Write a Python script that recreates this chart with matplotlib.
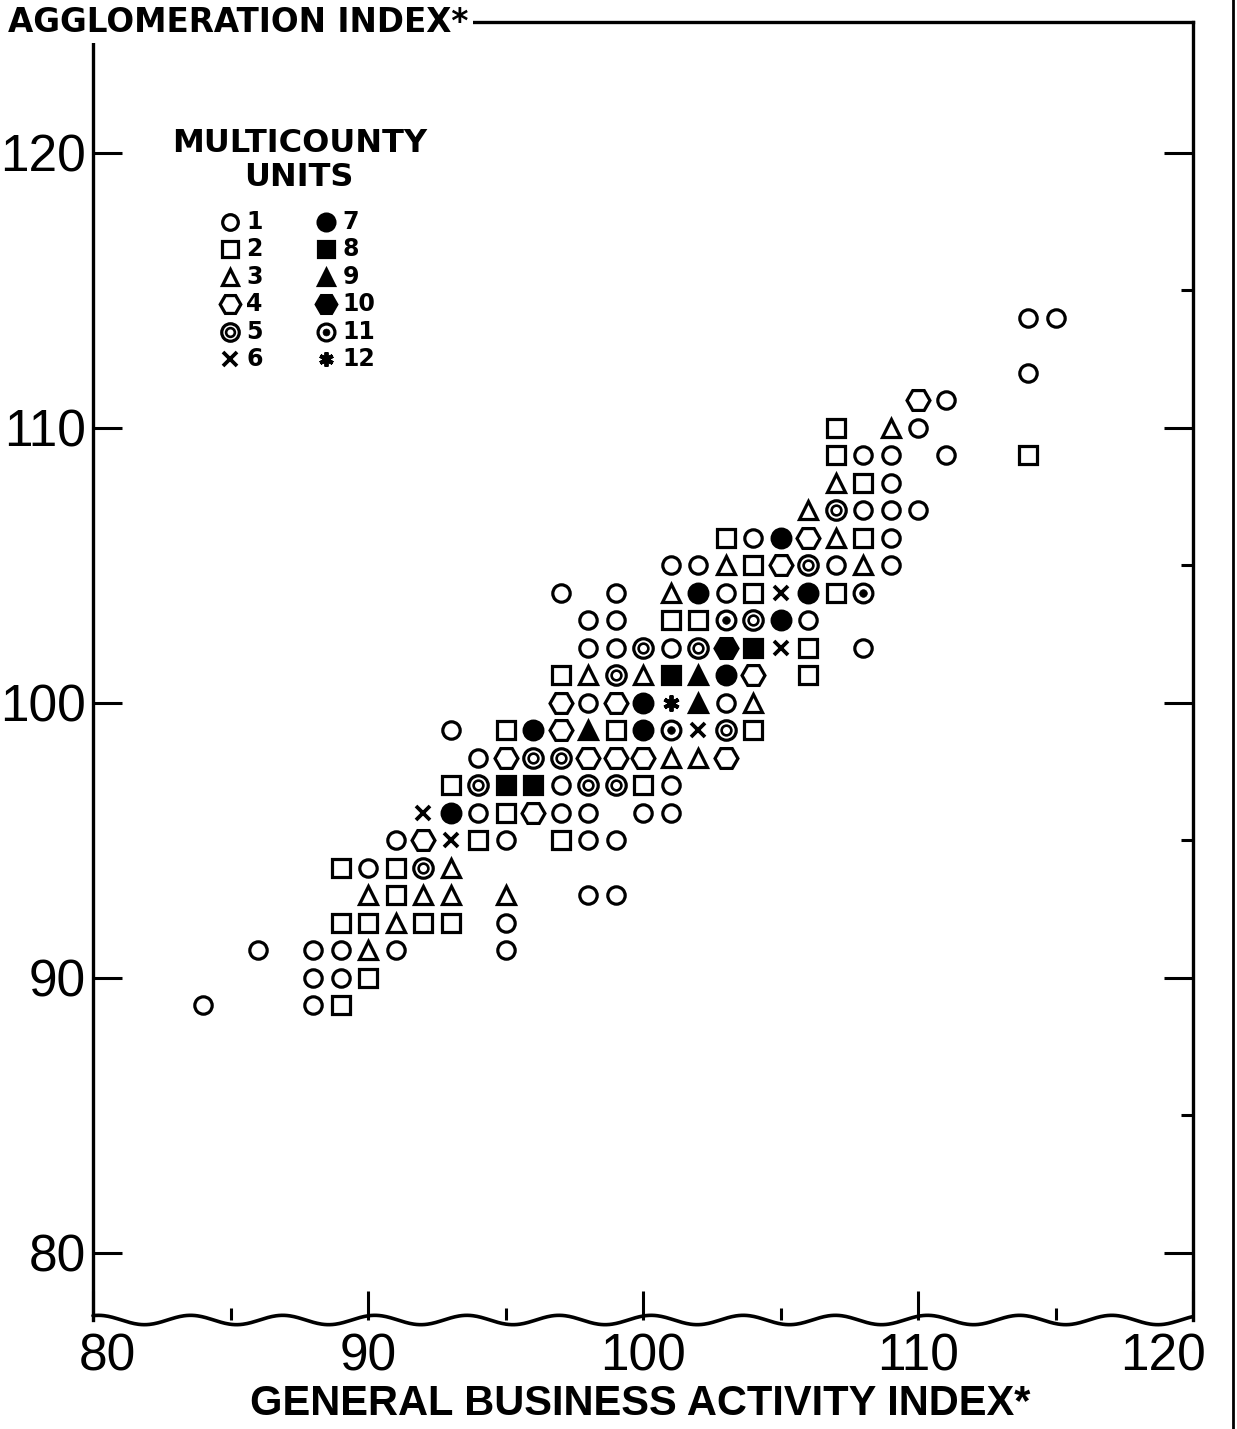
import numpy as np
import matplotlib
matplotlib.use("Agg")
import matplotlib.pyplot as plt
from matplotlib import font_manager
from matplotlib.transforms import ScaledTranslation
from matplotlib.lines import Line2D

# ---------------- data ----------------
U1_X = [114, 115, 114, 111, 110, 108, 109, 111, 109, 108, 109, 110, 104, 109, 101, 102, 107, 109,
        97, 99, 103, 98, 99, 106, 98, 99, 101, 108, 98, 103, 93, 94, 97, 101, 94, 97, 98, 100, 101,
        91, 95, 98, 99, 90, 98, 99, 95, 86, 88, 89, 91, 95, 88, 89, 84, 88]
U1_Y = [114, 114, 112, 111, 110, 109, 109, 109, 108, 107, 107, 107, 106, 106, 105, 105, 105, 105,
        104, 104, 104, 103, 103, 103, 102, 102, 102, 102, 100, 100, 99, 98, 97, 97, 96, 96, 96, 96, 96,
        95, 95, 95, 95, 94, 93, 93, 92, 91, 91, 91, 91, 91, 90, 90, 89, 89]
U2_X = [107, 107, 114, 108, 103, 108, 104, 104, 107, 101, 102, 106, 97, 106, 95, 99, 104, 93, 100,
        95, 94, 97, 89, 91, 91, 89, 90, 92, 93, 90, 89]
U2_Y = [110, 109, 109, 108, 106, 106, 105, 104, 104, 103, 103, 102, 101, 101, 99, 99, 99, 97, 97,
        96, 95, 95, 94, 94, 93, 92, 92, 92, 92, 90, 89]
U3_X = [109, 107, 106, 107, 103, 108, 101, 98, 100, 104, 101, 102, 93, 90, 92, 93, 95, 91, 90]
U3_Y = [110, 108, 107, 106, 105, 105, 104, 101, 101, 100, 98, 98, 94, 93, 93, 93, 93, 92, 91]
U4_X = [110, 106, 105, 104, 97, 99, 97, 95, 98, 99, 100, 103, 96, 92]
U4_Y = [111, 106, 105, 101, 100, 100, 99, 98, 98, 98, 98, 98, 96, 95]
U5_X = [107, 106, 104, 100, 102, 99, 103, 96, 97, 94, 98, 99, 92]
U5_Y = [107, 105, 103, 102, 102, 101, 99, 98, 98, 97, 97, 97, 94]
U6_X = [105, 105, 102, 92, 93]
U6_Y = [104, 102, 99, 96, 95]
U7_X = [105, 102, 106, 105, 103, 100, 96, 100, 93]
U7_Y = [106, 104, 104, 103, 101, 100, 99, 99, 96]
U8_X = [104, 101, 95, 96]
U8_Y = [102, 101, 97, 97]
U9_X = [102, 102, 98]
U9_Y = [101, 100, 99]
U10_X = [103]
U10_Y = [102]
U11_X = [108, 103, 101]
U11_Y = [104, 103, 99]
U12_X = [101]
U12_Y = [100]

UNIT_LABELS = ["1", "2", "3", "4", "5", "6", "7", "8", "9", "10", "11", "12"]
X_TICKS = [80, 90, 100, 110, 120]
Y_TICKS = [80, 90, 100, 110, 120]
X_LABEL = "GENERAL BUSINESS ACTIVITY INDEX*"
Y_LABEL = "AGGLOMERATION INDEX*"
LEGEND_TITLE = ["MULTICOUNTY", "UNITS"]

# ---------------- fonts ----------------
names = {f.name for f in font_manager.fontManager.ttflist}
NARROW = "Liberation Sans Narrow" if "Liberation Sans Narrow" in names else "Liberation Sans"
BOLD = "DejaVu Sans"

# ---------------- figure ----------------
W, H = 1237, 1429
fig = plt.figure(figsize=(W / 100, H / 100), dpi=100)
ax = fig.add_axes([93 / W, 1 - 1320 / H, 1100 / W, 1298 / H])
ax.set_xlim(80, 120)
ax.set_ylim(77.56, 124.76)

K = "black"
LW = 2.3

def ms_style(marker, size, filled, **kw):
    d = dict(marker=marker, markersize=size, linestyle="none",
             markeredgecolor=K, markeredgewidth=LW,
             markerfacecolor=K if filled else "white", clip_on=False)
    d.update(kw)
    return d

STYLES = {
    1: [ms_style("o", 12.5, False)],
    2: [ms_style("s", 13, False)],
    3: [ms_style("^", 13.5, False)],
    4: [ms_style("H", 16.5, False)],
    5: [ms_style("o", 14, False), ms_style("o", 7, False, markeredgewidth=1.9)],
    6: [ms_style("x", 10.5, False, markeredgewidth=2.7)],
    7: [ms_style("o", 13.5, True)],
    8: [ms_style("s", 13, True)],
    9: [ms_style("^", 13.5, True)],
    10: [ms_style("H", 16.5, True)],
    11: [ms_style("o", 13.5, False), ms_style("o", 5.5, True, markeredgewidth=0.5)],
    12: [ms_style((6, 2, 0), 11.5, False, markeredgewidth=2.8)],
}

SERIES = {1: (U1_X, U1_Y), 2: (U2_X, U2_Y), 3: (U3_X, U3_Y), 4: (U4_X, U4_Y),
          5: (U5_X, U5_Y), 6: (U6_X, U6_Y), 7: (U7_X, U7_Y), 8: (U8_X, U8_Y),
          9: (U9_X, U9_Y), 10: (U10_X, U10_Y), 11: (U11_X, U11_Y), 12: (U12_X, U12_Y)}

for k, (xs, ys) in SERIES.items():
    for st in STYLES[k]:
        ax.plot(xs, ys, **st)

# ---------------- legend (drawn in data space) ----------------
ax.text(87.5, 120.36, LEGEND_TITLE[0], ha="center", va="center", fontsize=23,
        fontweight="bold", family=BOLD)
ax.text(87.5, 119.1, LEGEND_TITLE[1], ha="center", va="center", fontsize=23,
        fontweight="bold", family=BOLD)
leg_rows = [117.5, 116.5, 115.5, 114.5, 113.5, 112.5]
col_x = [84.98, 88.47]
for i, lab in enumerate(UNIT_LABELS):
    col, row = divmod(i, 6)
    k = i + 1
    for st in STYLES[k]:
        st2 = dict(st)
        st2["markersize"] = st["markersize"] * 0.9
        ax.plot([col_x[col]], [leg_rows[row]], **st2)
    ax.text(col_x[col] + 0.6, leg_rows[row], lab, ha="left", va="center",
            fontsize=17, fontweight="bold", family=BOLD)

# ---------------- axes styling ----------------
for s in ["left", "right", "top"]:
    ax.spines[s].set_linewidth(2.4)
ax.spines["bottom"].set_visible(False)

ax.set_xticks(X_TICKS)
ax.set_yticks(Y_TICKS)
ax.set_xticks(np.arange(85, 120, 10), minor=True)
ax.set_yticks(np.arange(85, 120, 10), minor=True)
ax.tick_params(which="major", direction="in", length=21, width=2.2,
               top=False, right=True, left=True, bottom=True)
ax.tick_params(which="minor", direction="in", length=9, width=2.2,
               top=False, right=True, left=False, bottom=True)
ax.tick_params(axis="y", which="major", pad=5)
ax.tick_params(axis="x", which="major", pad=9)
for lab in ax.get_xticklabels() + ax.get_yticklabels():
    lab.set_fontsize(37)
    lab.set_family(NARROW)

xt = ax.get_xticklabels()
xt[0].set_transform(xt[0].get_transform() + ScaledTranslation(14 / 100, 0, fig.dpi_scale_trans))
xt[-1].set_transform(xt[-1].get_transform() + ScaledTranslation(-30 / 100, 0, fig.dpi_scale_trans))

# wavy bottom border
wx = np.linspace(80, 120, 800)
wy = 77.56 + 0.17 * np.sin(2 * np.pi * (wx - 80) / 3.35 + 1.2)
ax.plot(wx, wy, color=K, lw=2.6, clip_on=False, solid_capstyle="round")

# axis titles
fig.text(640 / W, 1 - 1404 / H, X_LABEL, ha="center", va="center", fontsize=30,
         fontweight="bold", family=NARROW)
fig.text(8 / W, 1 - 22 / H, Y_LABEL, ha="left", va="center", fontsize=23.5,
         fontweight="bold", family=BOLD,
         bbox=dict(facecolor="white", edgecolor="none", pad=3))

# page border line at far right
fig.add_artist(Line2D([1233 / W, 1233 / W], [0, 1], color=K, lw=2, transform=fig.transFigure))

fig.savefig("out.png", dpi=100, facecolor="white")
